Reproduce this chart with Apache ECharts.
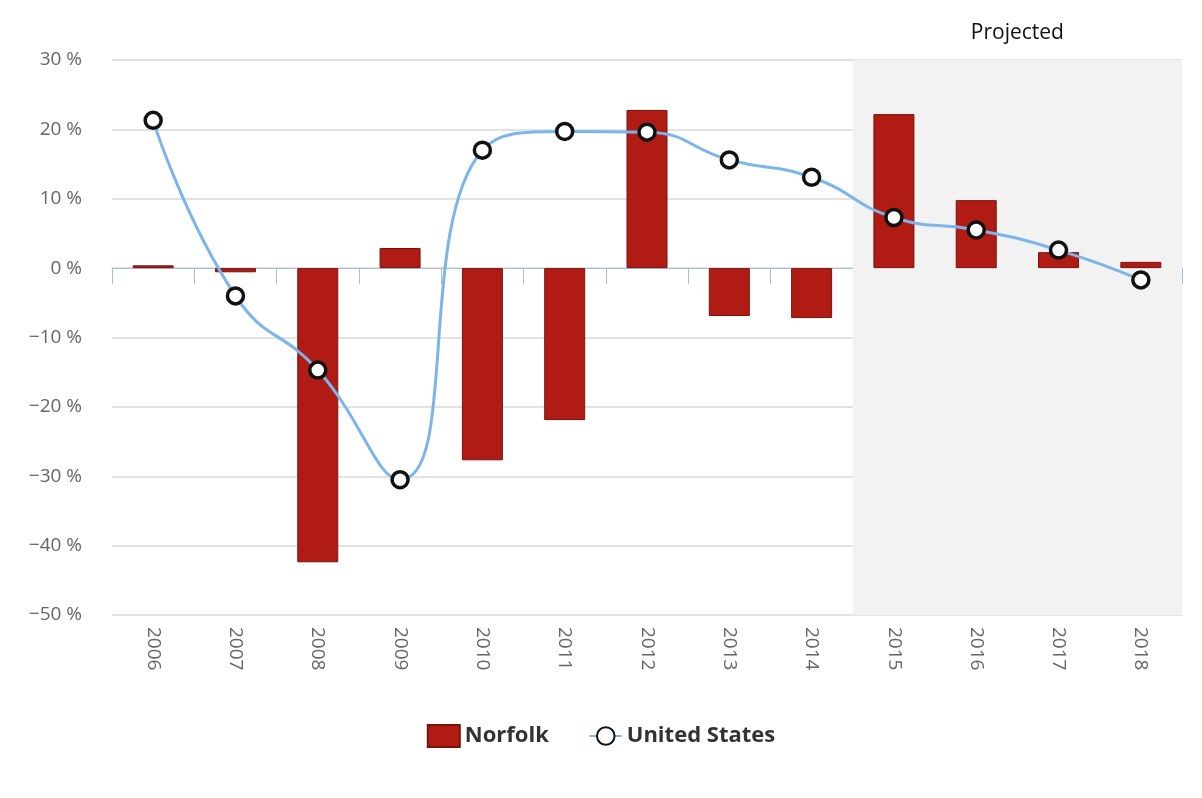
<!DOCTYPE html>
<html lang="en" style="height: 100%">
<head>
    <meta charset="utf-8">
    <title>Norfolk vs United States</title>
    <script src="https://cdn.jsdelivr.net/npm/echarts@6.0.0/dist/echarts.min.js"></script>
    <style>
        html, body { margin: 0; height: 100%; background: #fff; }
    </style>
</head>
<body>
    <div id="chart" style="width:1202px;height:798px"></div>
    <script type="text/javascript">
        var years = ['2006','2007','2008','2009','2010','2011','2012','2013','2014','2015','2016','2017','2018'];
        var norfolk = [0.4, -0.6, -42.4, 2.9, -27.7, -21.9, 22.8, -6.9, -7.2, 22.2, 9.8, 2.3, 0.9];
        var unitedStates = [21.3, -4.0, -14.7, -30.5, 17.0, 19.7, 19.6, 15.6, 13.1, 7.3, 5.5, 2.6, -1.7];

        var myChart = echarts.init(document.getElementById('chart'), null, { renderer: 'canvas' });
        var font = '"Open Sans", "DejaVu Sans", sans-serif';
        myChart.setOption({
            animation: false,
            textStyle: { fontFamily: font },
            grid: { left: 112, right: 20, top: 60, bottom: 183 },
            legend: {
                bottom: 45, left: 'center', itemGap: 40, itemWidth: 32, itemHeight: 22,
                textStyle: { fontSize: 22, fontWeight: 'bold', color: '#333' },
                data: [
                    { name: 'Norfolk', icon: 'rect' },
                    { name: 'United States' }
                ]
            },
            xAxis: {
                type: 'category', data: years,
                axisLine: { lineStyle: { color: '#a9bfd6' } },
                axisTick: { show: true, length: 16, lineStyle: { color: '#a9bfd6' } },
                axisLabel: { rotate: -90, fontSize: 19, color: '#666', margin: 12 }
            },
            yAxis: {
                type: 'value', min: -50, max: 30, interval: 10,
                axisLabel: {
                    fontSize: 19, color: '#666', margin: 30,
                    formatter: function (v) { return (v < 0 ? '\u2212' + (-v) : v) + ' %'; }
                },
                splitLine: { lineStyle: { color: '#d8d8d8', width: 1.5 } }
            },
            series: [
                {
                    name: 'Norfolk', type: 'bar', data: norfolk, barWidth: 41,
                    itemStyle: { color: '#b01c13', borderColor: '#7a120c', borderWidth: 1 },
                    markArea: {
                        silent: true,
                        itemStyle: { color: '#f2f2f2' },
                        label: { show: true, position: 'top', distance: 16, fontSize: 21, color: '#111', fontFamily: font },
                        data: [[{ name: 'Projected', xAxis: '2015' }, { xAxis: '2018' }]]
                    },
                    z: 2
                },
                {
                    name: 'United States', type: 'line', data: unitedStates, smooth: 0.5,
                    symbol: 'circle', symbolSize: 16,
                    lineStyle: { color: '#7cb5ec', width: 3 },
                    itemStyle: { color: '#fff', borderColor: '#111', borderWidth: 3.5 },
                    z: 3
                }
            ]
        });
    </script>
</body>
</html>
